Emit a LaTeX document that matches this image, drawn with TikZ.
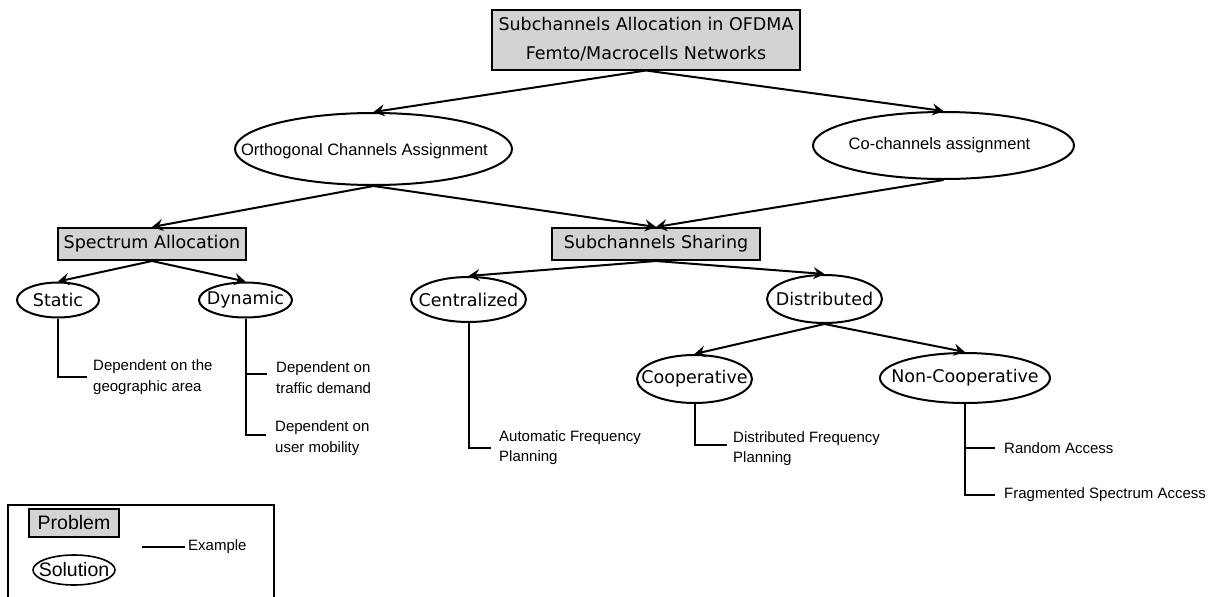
\documentclass[tikz,border=0pt]{standalone}
\usepackage{fontspec}
\setmainfont{DejaVu Sans}
\newfontfamily\arialf{Liberation Sans}
\usetikzlibrary{shapes.geometric,arrows.meta}
\definecolor{boxgray}{RGB}{211,211,211}
\begin{document}
\begin{tikzpicture}[x=1pt,y=-1pt,
  prob/.style={draw,line width=2pt,fill=boxgray,inner sep=0,font=\fontsize{17.5}{21}\selectfont},
  sol/.style={draw,ellipse,line width=2pt,inner sep=0},
  lbl/.style={font=\fontsize{17.5}{21}\selectfont,inner sep=0},
  albl/.style={font=\arialf\fontsize{16.5}{20}\selectfont,inner sep=0},
  conn/.style={line width=2pt,-{Stealth[length=11pt,width=12pt,inset=4pt]}},
  lead/.style={line width=2pt},
  ex/.style={font=\arialf\fontsize{15}{20.5}\selectfont,align=left,anchor=west,inner sep=0},
]
\useasboundingbox (0,0) rectangle (1213,597);

% problems
\node[prob, minimum width=308, minimum height=60, align=center,
      font=\fontsize{17.5}{29}\selectfont] (top) at (646,39.5)
      {Subchannels Allocation in OFDMA\\Femto/Macrocells Networks};
\node[prob, minimum width=188, minimum height=32] (sa) at (152,244) {Spectrum Allocation};
\node[prob, minimum width=208, minimum height=32] (ss) at (656,244) {Subchannels Sharing};

% solutions
\node[sol, minimum width=277, minimum height=72, label={[albl,xshift=-9pt,yshift=-2pt]center:Orthogonal Channels Assignment}] (orth) at (373.5,149) {};
\node[sol, minimum width=261, minimum height=67, label={[albl,xshift=-4pt]center:Co-channels assignment}] (coch) at (943.5,145.5) {};
\node[sol, minimum width=82, minimum height=35, label={[lbl]center:Static}] (stat) at (58,300) {};
\node[sol, minimum width=93, minimum height=35, label={[lbl]center:Dynamic}] (dyn) at (245.5,300) {};
\node[sol, minimum width=115, minimum height=45, label={[lbl]center:Centralized}] (cent) at (468.5,299.5) {};
\node[sol, minimum width=115, minimum height=48, label={[lbl]center:Distributed}] (dist) at (824.5,299) {};
\node[sol, minimum width=115, minimum height=48, label={[lbl]center:Cooperative}] (coop) at (694.5,379) {};
\node[sol, minimum width=170, minimum height=50, label={[lbl]center:Non-Cooperative}] (ncoop) at (965,378) {};

% arrows
\draw[conn] (top.south) -- (orth.north);
\draw[conn] (top.south) -- (coch.north);
\draw[conn] (orth.south) -- (sa.north);
\draw[conn] (orth.south) -- (ss.north);
\draw[conn] (coch.south) -- (ss.north);
\draw[conn] (sa.south) -- (stat.north);
\draw[conn] (sa.south) -- (dyn.north);
\draw[conn] (ss.south) -- (cent.north);
\draw[conn] (ss.south) -- (dist.north);
\draw[conn] (dist.south) -- (coop.north);
\draw[conn] (dist.south) -- (ncoop.north);

% examples
\node[ex] (e1) at (93,377) {Dependent on the\\geographic area};
\node[ex] (e2) at (276,377.5) {Dependent on\\traffic demand};
\node[ex] (e3) at (275,438) {Dependent on\\user mobility};
\node[ex] (e4) at (499,447.5) {Automatic Frequency\\Planning};
\node[ex] (e5) at (733,448.5) {Distributed Frequency\\Planning};
\node[ex] (e6) at (1004,448) {Random Access};
\node[ex] (e7) at (1004,495) {Fragmented Spectrum Access};

\draw[lead] (stat.south) |- ([xshift=-6pt]e1.west |- 0,377);
\draw[lead] (dyn.south) |- ([xshift=-9pt]e3.west |- 0,435);
\draw[lead] (dyn.south |- 0,374) -- ([xshift=-9pt]e2.west |- 0,374);
\draw[lead] (cent.south) |- ([xshift=-8pt]e4.west |- 0,448);
\draw[lead] (coop.south) |- ([xshift=-6pt]e5.west |- 0,445);
\draw[lead] (ncoop.south) |- ([xshift=-9pt]e7.west);
\draw[lead] (ncoop.south |- e6.west) -- ([xshift=-9pt]e6.west);

% legend
\draw[line width=1.2pt] (8,600) -- (8,505) -- (274,505) -- (274,600);
\node[prob, minimum width=90, minimum height=28, font=\arialf\fontsize{19.5}{22}\selectfont] (lp) at (74,523) {Problem};
\node[sol, line width=1.6pt, minimum width=82, minimum height=30,
      label={[inner sep=0,font=\arialf\fontsize{19.5}{22}\selectfont]center:Solution}] (ls) at (74,570) {};
\node[ex, font=\arialf\fontsize{15}{18}\selectfont] (le) at (188,547) {Example};
\draw[line width=1.4pt] ([xshift=-46pt]le.west) -- ([xshift=-3pt]le.west);
\end{tikzpicture}
\end{document}
